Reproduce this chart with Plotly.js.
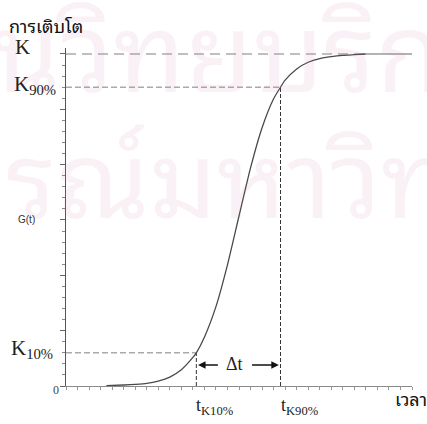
<!DOCTYPE html>
<html>
<head>
<meta charset="utf-8">
<script src="https://cdn.plot.ly/plotly-3.0.1.min.js"></script>
<style>
  html, body { margin: 0; padding: 0; background: #ffffff; }
  #chart { width: 427px; height: 424px; }
</style>
</head>
<body>
<div id="chart"></div>
<script>
// Logistic growth curve G(t) with its 10% / 90% levels
const K = 100;
const K90 = 90;
const K10 = 10;
const t10 = 11.3;
const t90 = 18.6;

const timeValues = [3.5, 5, 6, 7, 8, 9, 10, 11, 11.3, 12, 13, 14, 15, 16, 17, 18, 18.6, 19, 20, 21, 22, 23, 24, 25, 26];
const growthValues = [0.1, 0.3, 0.5, 0.8, 1.5, 2.7, 4.9, 8.6, 10, 14.7, 23.9, 36.5, 51.2, 65.7, 77.8, 86.5, 90, 92.1, 95.5, 97.5, 98.6, 99.2, 99.6, 99.8, 100];

const tMax = 30;
const yTop = 101.8;

const serif = "'Liberation Serif', 'Times New Roman', serif";
const thai = "'Noto Sans Thai Looped', 'Noto Sans Thai', Tahoma, 'Noto Sans', sans-serif";

const traces = [
  // asymptote K
  { x: [0, 26], y: [K, K], mode: 'lines', line: { color: '#aaaaaa', width: 1.5, dash: '10px,6px' }, hoverinfo: 'skip' },
  { x: [26, tMax], y: [K, K], mode: 'lines', line: { color: '#9a9a9a', width: 1.5 }, hoverinfo: 'skip' },
  // 90% and 10% levels
  { x: [0, t90], y: [K90, K90], mode: 'lines', line: { color: '#aaaaaa', width: 1.5, dash: '6px,3px' }, hoverinfo: 'skip' },
  { x: [0, t10], y: [K10, K10], mode: 'lines', line: { color: '#aaaaaa', width: 1.5, dash: '6px,3px' }, hoverinfo: 'skip' },
  // drop lines to the time axis
  { x: [t10, t10], y: [0, K10], mode: 'lines', line: { color: '#333333', width: 1, dash: '4px,2px' }, hoverinfo: 'skip' },
  { x: [t90, t90], y: [0, K90], mode: 'lines', line: { color: '#333333', width: 1, dash: '4px,2px' }, hoverinfo: 'skip' },
  // growth curve
  { x: timeValues, y: growthValues, mode: 'lines', line: { color: '#4a4a4a', width: 1.3, shape: 'spline', smoothing: 0.6 }, hoverinfo: 'skip' }
];

const watermark = 'rgba(210,120,165,0.1)';

const annotations = [
  // background stamp
  { xref: 'paper', yref: 'paper', x: -0.22, y: 1.285, xanchor: 'left', yanchor: 'top', showarrow: false,
    text: 'นวิทยบริการ', font: { family: thai, size: 110, color: watermark } },
  { xref: 'paper', yref: 'paper', x: -0.18, y: 0.895, xanchor: 'left', yanchor: 'top', showarrow: false,
    text: 'รณ์มหาวิทยาลัย', font: { family: thai, size: 106, color: watermark } },

  // axis captions
  { xref: 'paper', yref: 'paper', x: -0.17, y: 1.069, xanchor: 'left', yanchor: 'middle', showarrow: false,
    text: 'การเติบโต', font: { family: thai, size: 18, color: '#111111' } },
  { xref: 'paper', yref: 'paper', x: 0.945, y: -0.036, xanchor: 'left', yanchor: 'middle', showarrow: false,
    text: 'เวลา', font: { family: thai, size: 18, color: '#111111' } },
  { xref: 'paper', yref: 'y', x: -0.145, y: 50, xanchor: 'left', yanchor: 'middle', showarrow: false,
    text: 'G(t)', font: { family: "'Liberation Sans', Arial, sans-serif", size: 10, color: '#333333' } },

  // level labels
  { xref: 'paper', yref: 'y', x: -0.098, y: K, yshift: 7, xanchor: 'right', yanchor: 'middle', showarrow: false,
    text: 'K', font: { family: serif, size: 21, color: '#222222' } },
  { xref: 'paper', yref: 'y', x: -0.023, y: K90, yshift: 2, xanchor: 'right', yanchor: 'middle', showarrow: false,
    text: 'K<sub>90%</sub>', font: { family: serif, size: 21, color: '#222222' } },
  { xref: 'paper', yref: 'y', x: -0.032, y: K10, yshift: 4, xanchor: 'right', yanchor: 'middle', showarrow: false,
    text: 'K<sub>10%</sub>', font: { family: serif, size: 21, color: '#222222' } },
  { xref: 'paper', yref: 'y', x: -0.014, y: 0, yshift: -4, xanchor: 'right', yanchor: 'middle', showarrow: false,
    text: '0', font: { family: serif, size: 12, color: '#444444' } },

  // time labels
  { xref: 'x', yref: 'paper', x: t10, xshift: -2, y: -0.06, xanchor: 'left', yanchor: 'middle', showarrow: false,
    text: 't<sub>K10%</sub>', font: { family: serif, size: 18, color: '#222222' } },
  { xref: 'x', yref: 'paper', x: t90, xshift: -2, y: -0.06, xanchor: 'left', yanchor: 'middle', showarrow: false,
    text: 't<sub>K90%</sub>', font: { family: serif, size: 18, color: '#222222' } },

  // delta t marker
  { xref: 'x', yref: 'y', x: (t10 + t90) / 2, xshift: -4, y: 6.6, xanchor: 'center', yanchor: 'middle', showarrow: false,
    text: 'Δt', font: { family: serif, size: 18, color: '#222222' } },
  { xref: 'x', yref: 'y', axref: 'x', ayref: 'y', x: t10 + 0.15, y: 6.3, ax: t10 + 2.0, ay: 6.3, text: '',
    showarrow: true, arrowhead: 2, arrowsize: 1, arrowwidth: 1.5, arrowcolor: '#111111' },
  { xref: 'x', yref: 'y', axref: 'x', ayref: 'y', x: t90 - 0.15, y: 6.3, ax: t90 - 2.6, ay: 6.3, text: '',
    showarrow: true, arrowhead: 2, arrowsize: 1, arrowwidth: 1.5, arrowcolor: '#111111' }
];

const layout = {
  width: 427,
  height: 424,
  margin: { l: 66, r: 15, t: 48, b: 38 },
  paper_bgcolor: '#ffffff',
  plot_bgcolor: 'rgba(0,0,0,0)',
  showlegend: false,
  xaxis: {
    range: [0, tMax], showgrid: false, zeroline: false,
    showline: true, linecolor: '#8a8a8a', linewidth: 1,
    ticks: 'outside', ticklen: 3, tickcolor: '#999999', tickwidth: 1, dtick: 1,
    showticklabels: false
  },
  yaxis: {
    range: [0, yTop], showgrid: false, zeroline: false,
    showline: true, linecolor: '#555555', linewidth: 1.5,
    ticks: 'outside', ticklen: 5, tickcolor: '#666666', tickwidth: 1, tick0: 0, dtick: K / 6,
    minor: { dtick: K / 30, ticklen: 3, tickcolor: '#888888', ticks: 'outside' },
    showticklabels: false
  },
  annotations: annotations
};

Plotly.newPlot('chart', traces, layout, { staticPlot: true, displayModeBar: false });
</script>
</body>
</html>
